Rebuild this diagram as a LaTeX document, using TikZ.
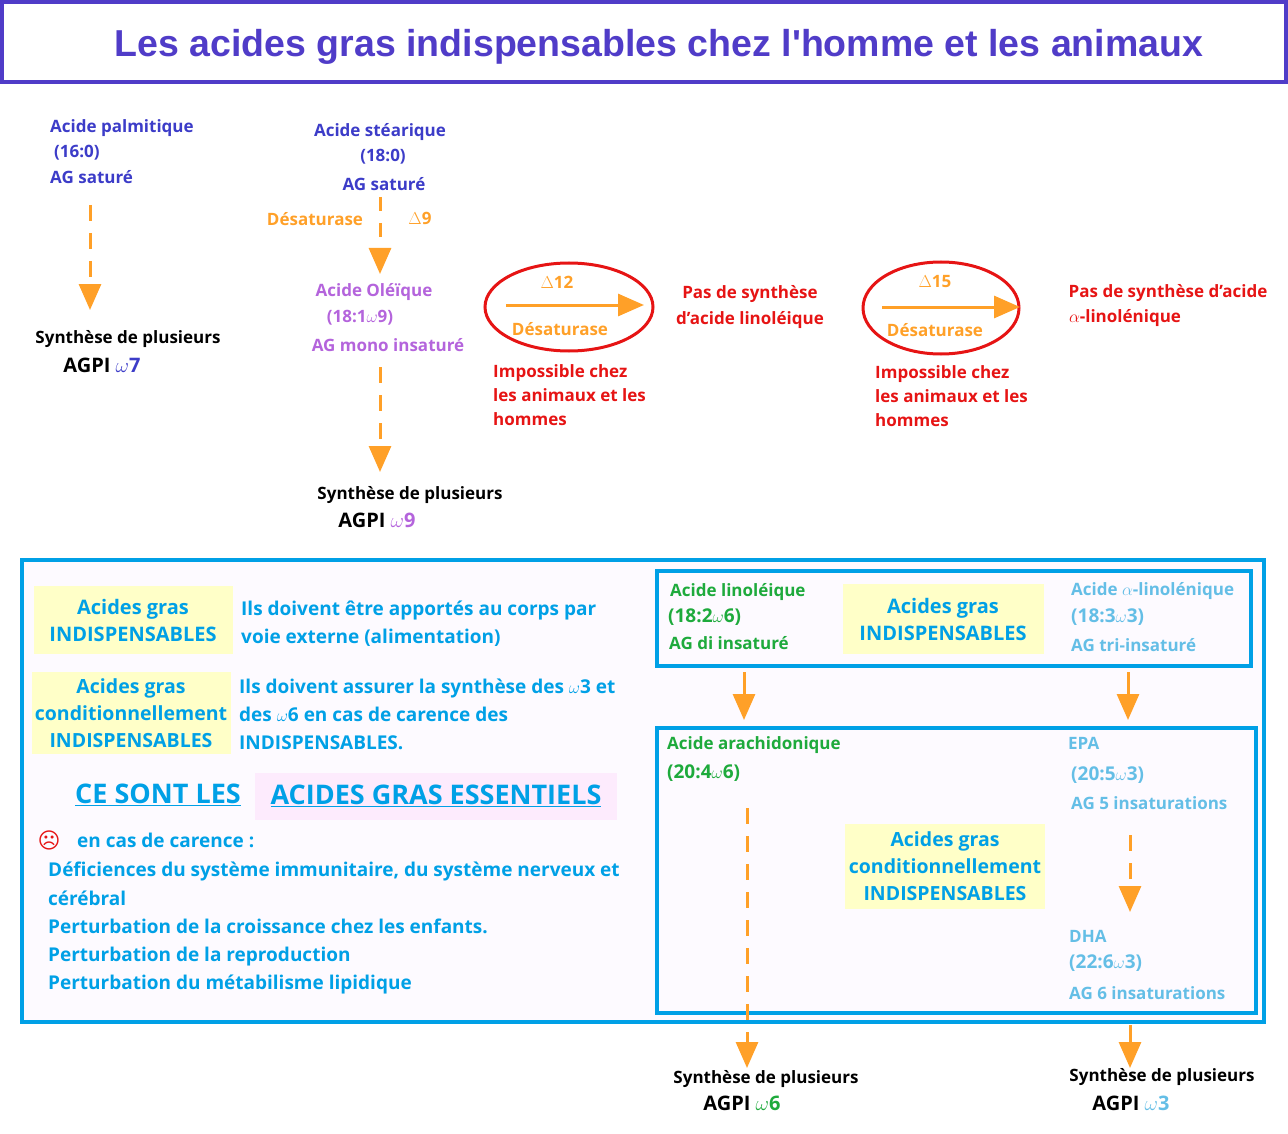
\documentclass[tikz,border=0pt]{standalone}
\usepackage{fontspec}
\setmainfont{Open Sans}
\newfontfamily\titlefont{Liberation Sans}
\usetikzlibrary{arrows.meta, shapes, positioning}
\definecolor{titleblue}{RGB}{80,60,200}
\definecolor{txtblue}{RGB}{60,60,200}
\definecolor{orangeg}{RGB}{255,160,40}
\definecolor{purpleg}{RGB}{180,100,220}
\definecolor{redg}{RGB}{230,20,20}
\definecolor{cyang}{RGB}{0,160,230}
\definecolor{greeng}{RGB}{30,170,60}
\definecolor{lightblueg}{RGB}{100,190,230}
\definecolor{yellowg}{RGB}{255,255,200}
\definecolor{pinkg}{RGB}{253,235,253}
\definecolor{paleg}{RGB}{253,250,255}
\tikzset{txt/.style={font=\bfseries\fontsize{17}{20}\selectfont, inner sep=0pt},
lefttxt/.style={txt, anchor=west},
agpi/.style={txt, font=\bfseries\fontsize{20}{22}\selectfont},
yellowbox/.style={fill=yellowg, text=cyang, align=center, font=\bfseries\fontsize{20}{27}\selectfont, inner sep=2pt},
bigtxt/.style={lefttxt, text=cyang, font=\bfseries\fontsize{19}{23}\selectfont},
arrowsolid/.style={orangeg, line width=3pt, -{Triangle[length=26pt, width=22pt]}},
arrowdash/.style={arrowsolid, dash pattern=on 16pt off 12pt}}
\newcommand{\om}[1]{$\omega$#1}
\begin{document}
\begin{tikzpicture}[x=1pt, y=-1pt]
        \useasboundingbox (0,0) rectangle (1288,1134);
        % Title
        \draw[titleblue, line width=4pt] (2,2) rectangle (1286,82);
        \node[inner sep=0pt, text=titleblue, font=\titlefont\bfseries\fontsize{37.5}{42}\selectfont] (title) at (659,47) {Les acides gras indispensables chez l'homme et les animaux};
        % Palmitique
        \node[lefttxt, text=txtblue] (palm) at (50,128) {Acide palmitique};
        \node[lefttxt, text=txtblue] (palm2) at (54,153) {(16:0)};
        \node[lefttxt, text=txtblue] (palm3) at (50,177) {AG saturé};
        \coordinate (palmA) at (90,205);
        \coordinate (palmB) at (90,310);
        \draw[arrowdash] (palmA) -- (palmB);
        \node[txt] (syn7) at (128,339) {Synthèse de plusieurs};
        \node[agpi] (agpi7) at (102,365) {AGPI \textcolor{txtblue}{\om7}};
        % Stearique
        \node[txt, text=txtblue] (stea) at (380,132) {Acide stéarique};
        \node[txt, text=txtblue] (stea2) at (383,157) {(18:0)};
        \node[txt, text=txtblue] (stea3) at (384,184) {AG saturé};
        \node[txt, text=orangeg] (des9) at (315,219) {Désaturase};
        \node[txt, text=orangeg] (d9) at (420,218) {$\Delta$9};
        \coordinate (steaA) at (380,197);
        \coordinate (steaB) at (380,274);
        \draw[arrowdash, dash pattern=on 14pt off 12pt] (steaA) -- (steaB);
        % Oleique
        \node[txt, text=purpleg] (ole) at (374,292) {Acide Oléïque};
        \node[txt, text=purpleg] (ole2) at (360,318) {(18:1\om9)};
        \node[txt, text=purpleg] (ole3) at (388,345) {AG mono insaturé};
        \coordinate (oleA) at (380,367);
        \coordinate (oleB) at (380,472);
        \draw[arrowdash] (oleA) -- (oleB);
        \node[txt] (syn9) at (410,495) {Synthèse de plusieurs};
        \node[agpi] (agpi9) at (377,520) {AGPI \textcolor{purpleg}{\om9}};
        % Delta 12
        \node[draw=redg, line width=3pt, ellipse, minimum width=168pt, minimum height=88pt] (ell12) at (569,307) {};
        \coordinate (d12A) at (506,305);
        \coordinate (d12B) at (644,305);
        \draw[arrowsolid] (d12A) -- (d12B);
        \node[txt, text=orangeg] (d12) at (557,282) {$\Delta$12};
        \node[txt, text=orangeg] (des12) at (560,329) {Désaturase};
        \node[lefttxt, text=redg, align=left, font=\bfseries\fontsize{17}{24}\selectfont, anchor=north west] (imp12) at (493,364) {Impossible chez\\les animaux et les\\hommes};
        \node[txt, text=redg, align=center, font=\bfseries\fontsize{17}{26}\selectfont] (pas12) at (750,307) {Pas de synthèse\\d'acide linoléique};
        % Delta 15
        \node[draw=redg, line width=3pt, ellipse, minimum width=156pt, minimum height=92pt] (ell15) at (941,308) {};
        \coordinate (d15A) at (882,307);
        \coordinate (d15B) at (1020,307);
        \draw[arrowsolid] (d15A) -- (d15B);
        \node[txt, text=orangeg] (d15) at (935,282) {$\Delta$15};
        \node[txt, text=orangeg] (des15) at (935,330) {Désaturase};
        \node[lefttxt, text=redg, align=left, font=\bfseries\fontsize{17}{24}\selectfont, anchor=north west] (imp15) at (875,365) {Impossible chez\\les animaux et les\\hommes};
        \node[txt, text=redg] (pas15) at (1168,293) {Pas de synthèse d'acide};
        \node[txt, text=redg] (pas15b) at (1125,318) {$\alpha$-linolénique};
        % Bottom frame
        \draw[cyang, line width=4pt, fill=paleg] (22,560) rectangle (1264,1022);
        \node[yellowbox, minimum width=199pt, minimum height=68pt] (ind1) at (133,620) {Acides gras\\INDISPENSABLES};
        \node[bigtxt, align=left, font=\bfseries\fontsize{19}{28}\selectfont] (ext) at (241,624) {Ils doivent être apportés au corps par\\voie externe (alimentation)};
        \node[yellowbox, minimum width=199pt, minimum height=82pt, font=\bfseries\fontsize{19.5}{27}\selectfont] (cond1) at (131,713) {Acides gras\\conditionnellement\\INDISPENSABLES};
        \node[bigtxt, align=left, font=\bfseries\fontsize{19}{28}\selectfont] (assur) at (239,714) {Ils doivent assurer la synthèse des \om3 et\\des \om6 en cas de carence des\\INDISPENSABLES.};
        \node[txt, text=cyang, font=\bfseries\fontsize{27}{32}\selectfont] (sont) at (158,795) {\underline{CE SONT LES}};
        \node[fill=pinkg, text=cyang, minimum width=362pt, minimum height=47pt, font=\bfseries\fontsize{27}{32}\selectfont] (ess) at (436,796) {\underline{ACIDES GRAS ESSENTIELS}};
        \node[txt, text=redg, font=\fontsize{22}{24}\selectfont] (sad) at (49,840) {\fontspec{DejaVu Sans}☹};
        \node[bigtxt] (carence) at (77,840) {en cas de carence :};
        \node[bigtxt, align=left, anchor=north west, font=\bfseries\fontsize{19}{28.3}\selectfont] (def) at (48,862) {Déficiences du système immunitaire, du système nerveux et\\cérébral\\Perturbation de la croissance chez les enfants.\\Perturbation de la reproduction\\Perturbation du métabilisme lipidique};
        % Right boxes
        \draw[cyang, line width=4pt] (657,571) rectangle (1251,666);
        \node[lefttxt, text=greeng] (lino) at (670,592) {Acide linoléique};
        \node[lefttxt, text=greeng, font=\bfseries\fontsize{19}{20}\selectfont] (lino2) at (668,617) {(18:2\om6)};
        \node[lefttxt, text=greeng] (lino3) at (669,643) {AG di insaturé};
        \node[yellowbox, minimum width=201pt, minimum height=70pt] (ind2) at (943,619) {Acides gras\\INDISPENSABLES};
        \node[lefttxt, text=lightblueg] (alin) at (1071,591) {Acide $\alpha$-linolénique};
        \node[lefttxt, text=lightblueg, font=\bfseries\fontsize{19}{20}\selectfont] (alin2) at (1071,617) {(18:3\om3)};
        \node[lefttxt, text=lightblueg] (alin3) at (1071,645) {AG tri-insaturé};
        \coordinate (lA) at (744,672);
        \coordinate (lB) at (744,720);
        \coordinate (aA) at (1128,672);
        \coordinate (aB) at (1128,720);
        \draw[arrowsolid] (lA) -- (lB);
        \draw[arrowsolid] (aA) -- (aB);
        \draw[cyang, line width=4pt] (657,728) rectangle (1256,1013);
        \node[lefttxt, text=greeng] (ara) at (667,745) {Acide arachidonique};
        \node[lefttxt, text=greeng, font=\bfseries\fontsize{19}{20}\selectfont] (ara2) at (667,773) {(20:4\om6)};
        \coordinate (araA) at (747,808);
        \coordinate (araB) at (747,1068);
        \draw[arrowdash] (araA) -- (araB);
        \node[lefttxt, text=lightblueg] (epa) at (1068,743) {EPA};
        \node[lefttxt, text=lightblueg, font=\bfseries\fontsize{19}{20}\selectfont] (epa2) at (1071,775) {(20:5\om3)};
        \node[lefttxt, text=lightblueg] (epa3) at (1071,803) {AG 5 insaturations};
        \coordinate (epaA) at (1130,835);
        \coordinate (epaB) at (1130,912);
        \draw[arrowdash] (epaA) -- (epaB);
        \node[lefttxt, text=lightblueg] (dha) at (1069,936) {DHA};
        \node[lefttxt, text=lightblueg, font=\bfseries\fontsize{19}{20}\selectfont] (dha2) at (1069,963) {(22:6\om3)};
        \node[lefttxt, text=lightblueg] (dha3) at (1069,993) {AG 6 insaturations};
        \node[yellowbox, minimum width=200pt, minimum height=85pt, font=\bfseries\fontsize{19.5}{27}\selectfont] (cond2) at (945,866) {Acides gras\\conditionnellement\\INDISPENSABLES};
        \coordinate (dhaA) at (1130,1025);
        \coordinate (dhaB) at (1130,1068);
        \draw[arrowsolid] (dhaA) -- (dhaB);
        % Bottom syntheses
        \node[txt] (syn6) at (766,1079) {Synthèse de plusieurs};
        \node[agpi] (agpi6) at (742,1103) {AGPI \textcolor{greeng}{\om6}};
        \node[txt] (syn3) at (1162,1077) {Synthèse de plusieurs};
        \node[agpi] (agpi3) at (1131,1103) {AGPI \textcolor{lightblueg}{\om3}};
\end{tikzpicture}
\end{document}
